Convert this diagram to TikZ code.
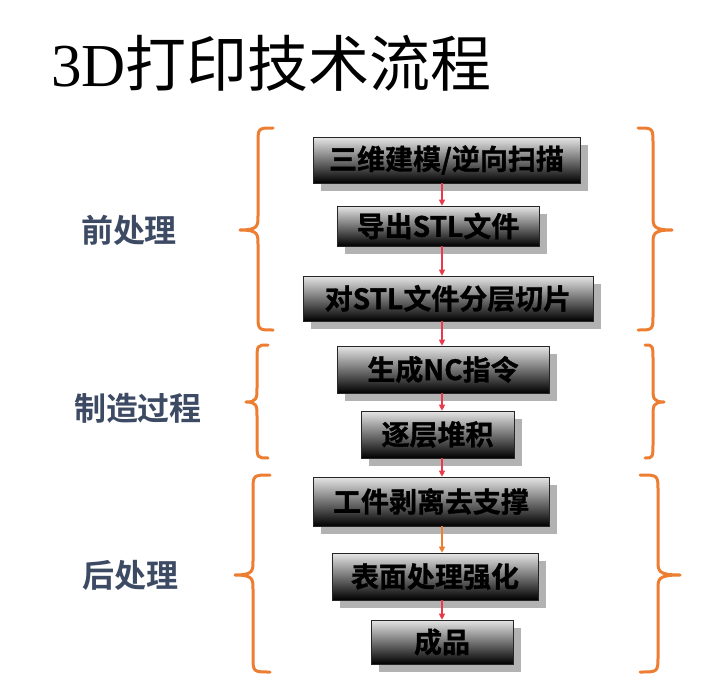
\documentclass[tikz,border=0pt]{standalone}
\usepackage{fontspec}
\setmainfont{Liberation Serif}
\newfontfamily\cjk{Noto Sans CJK SC}
\newfontfamily\cjkb{Noto Sans CJK SC Bold}[FakeBold=1.2]
\newfontfamily\cjklab{Noto Sans CJK SC Bold}
\usetikzlibrary{shadows,arrows.meta,backgrounds}
\definecolor{braceor}{HTML}{ED7D31}
\definecolor{arrred}{HTML}{E8394D}
\definecolor{labcol}{HTML}{3D4A63}
\newcommand\mybrace[6]{% xe xs xt yt ym yb
  \draw[bracestyle] (#1,#4) .. controls (#2,#4) .. (#2,#4+16) -- (#2,#5-14)
    .. controls (#2,#5-4) and (#2,#5) .. (#3,#5) .. controls (#2,#5) and (#2,#5+4) .. (#2,#5+14)
    -- (#2,#6-16) .. controls (#2,#6) .. (#1,#6);}
\begin{document}
\begin{tikzpicture}[x=1pt,y=-1pt,
  stepbox/.style={draw=black!85, line width=0.6pt, rectangle, inner sep=0pt,
    top color=black!10, middle color=black!30, bottom color=black,
    font=\cjkb\fontsize{28}{30}\selectfont, text=black,
    drop shadow={shadow xshift=8pt, shadow yshift=-8pt, fill=black!30, opacity=1}},
  bracestyle/.style={draw=braceor, line width=3pt, line cap=round, line join=round},
  arr/.style={draw=arrred, line width=1.1pt, -{Triangle[length=6pt,width=6pt]}},
  arro/.style={draw=braceor, line width=1.1pt, -{Triangle[length=6pt,width=6pt]}},
  sarr/.style={draw=black!30, line width=1pt, -{Triangle[length=6pt,width=6pt]}},
  lab/.style={font=\cjklab\fontsize{32}{34}\selectfont, text=labcol, inner sep=0pt}]
\useasboundingbox (0,0) rectangle (702,685);
\fill[white] (0,0) rectangle (702,685);

\node[anchor=west, inner sep=0pt] (title) at (51,63) {\fontsize{61}{61}\selectfont 3D{\cjk 打印技术流程}};

\node[stepbox, minimum width=267pt, minimum height=46pt] (b1) at (446.5,160) {三维建模/逆向扫描};
\node[stepbox, minimum width=202pt, minimum height=40pt] (b2) at (438,226) {导出STL文件};
\node[stepbox, minimum width=290pt, minimum height=45pt] (b3) at (448,298.5) {对STL文件分层切片};
\node[stepbox, minimum width=212pt, minimum height=47pt] (b4) at (443,369.5) {生成NC指令};
\node[stepbox, minimum width=153pt, minimum height=47pt] (b5) at (437.5,434.5) {逐层堆积};
\node[stepbox, minimum width=236pt, minimum height=49pt] (b6) at (431,501.5) {工件剥离去支撑};
\node[stepbox, minimum width=206pt, minimum height=47pt] (b7) at (435,576.5) {表面处理强化};
\node[stepbox, minimum width=142pt, minimum height=44pt] (b8) at (442,642) {成品};

\coordinate (ax) at (442,0);
\coordinate (sx) at (449,0);

\begin{scope}[on background layer]
\foreach \u/\v in {b1/b2,b2/b3,b3/b4,b4/b5,b5/b6,b6/b7,b7/b8}{
  \draw[sarr] ([yshift=-8pt]\u.south -| sx) -- ([yshift=-8pt]\v.north -| sx);
}
\end{scope}

\draw[arr] (b1.south -| ax) -- (b2.north -| ax);
\draw[arr] (b2.south -| ax) -- (b3.north -| ax);
\draw[arr] (b3.south -| ax) -- (b4.north -| ax);
\draw[arr] (b4.south -| ax) -- (b5.north -| ax);
\draw[arr] (b5.south -| ax) -- (b6.north -| ax);
\draw[arro] (b6.south -| ax) -- (b7.north -| ax);
\draw[arr] (b7.south -| ax) -- (b8.north -| ax);

\mybrace{273}{258}{240}{128}{230}{330}
\mybrace{638}{653}{672}{128}{230}{330}
\mybrace{268}{257}{246}{345}{402}{458}
\mybrace{645}{653}{664}{345}{402}{458}
\mybrace{270}{253}{235}{475}{575}{672}
\mybrace{640}{658}{680}{475}{575}{672}

\node[lab] (l1) at (129,230) {前处理};
\node[lab] (l2) at (138,408) {制造过程};
\node[lab] (l3) at (130,575) {后处理};
\end{tikzpicture}
\end{document}
